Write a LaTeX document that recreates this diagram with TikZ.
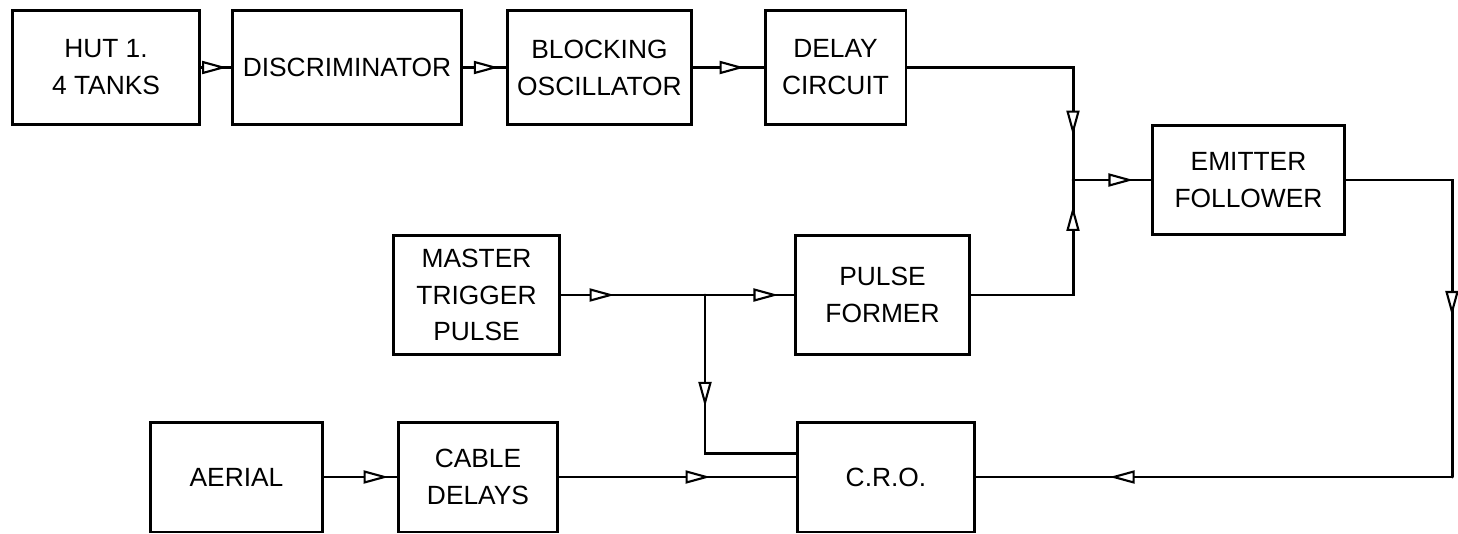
\documentclass[tikz,border=0pt]{standalone}
\usepackage{fontspec}
\setmainfont{Liberation Sans}
\usetikzlibrary{arrows.meta, positioning, calc, decorations.markings}

\begin{document}
\begin{tikzpicture}[
  x=0.02cm, y=-0.02cm,
  every node/.style={font=\fontsize{15}{21}\selectfont},
  block/.style={rectangle, draw, line width=1.7pt, align=center,
                inner sep=2pt, minimum height=#1},
  block/.default=2.3cm,
  wire/.style={line width=1.7pt, line cap=round},
  flow/.style={postaction={decorate}, decoration={markings,
               mark=at position #1 with {\arrow{Triangle[fill=white, length=0.5cm,
               width=0.26cm, line width=1.2pt]}}}}
]
  \useasboundingbox (0,0) rectangle (1458,534);

  % top row
  \node[block, minimum width=3.76cm] (hutbox)   at (106,67.5)   {HUT 1.\\4 TANKS};
  \node[block, minimum width=4.60cm] (discbox)  at (347,67.5)   {DISCRIMINATOR};
  \node[block, minimum width=3.70cm] (blockbox) at (599.5,67.5) {BLOCKING\\OSCILLATOR};
  \node[block, minimum width=2.82cm] (delaybox) at (835.5,67.5) {DELAY\\CIRCUIT};
  \node[block=2.2cm, minimum width=3.86cm] (efbox) at (1248.5,180) {EMITTER\\FOLLOWER};

  % middle row
  \node[block=2.4cm, minimum width=3.34cm] (masterbox) at (476.5,295) {MASTER\\TRIGGER\\PULSE};
  \node[block=2.4cm, minimum width=3.50cm] (pulsebox)  at (882.5,295) {PULSE\\FORMER};

  % bottom row
  \node[block=2.2cm, minimum width=3.46cm] (aerialbox) at (236.5,477) {AERIAL};
  \node[block=2.2cm, minimum width=3.20cm] (cablebox)  at (478,477)   {CABLE\\DELAYS};
  \node[block=2.2cm, minimum width=3.56cm] (crobox)    at (886,477)   {C.R.O.};

  \coordinate (merge) at (1073,180);
  \coordinate (split) at (705,295);
  \coordinate (rbend) at (1452,477);

  \draw[wire, flow=0.88] (hutbox) -- (discbox);
  \draw[wire, flow=0.84] (discbox) -- (blockbox);
  \draw[wire, flow=0.73] (blockbox) -- (delaybox);
  \draw[wire, flow=0.84] (delaybox.east) -| (merge);
  \draw[wire, flow=0.88] (pulsebox.east) -| (merge);
  \draw[wire, flow=0.78] (merge) -- (efbox);
  \draw[wire, flow=0.60] (efbox.east) -| (rbend);
  \draw[wire, flow=0.72] (rbend) -- (crobox);
  \draw[wire, flow=0.37] (masterbox) -- (split);
  \draw[wire, flow=0.83] (split) -- (pulsebox);
  \draw[wire, flow=0.45] (split) |- ([yshift=0.48cm]crobox.west);
  \draw[wire, flow=0.89] (aerialbox) -- (cablebox);
  \draw[wire, flow=0.64] (cablebox) -- (crobox);
\end{tikzpicture}
\end{document}
